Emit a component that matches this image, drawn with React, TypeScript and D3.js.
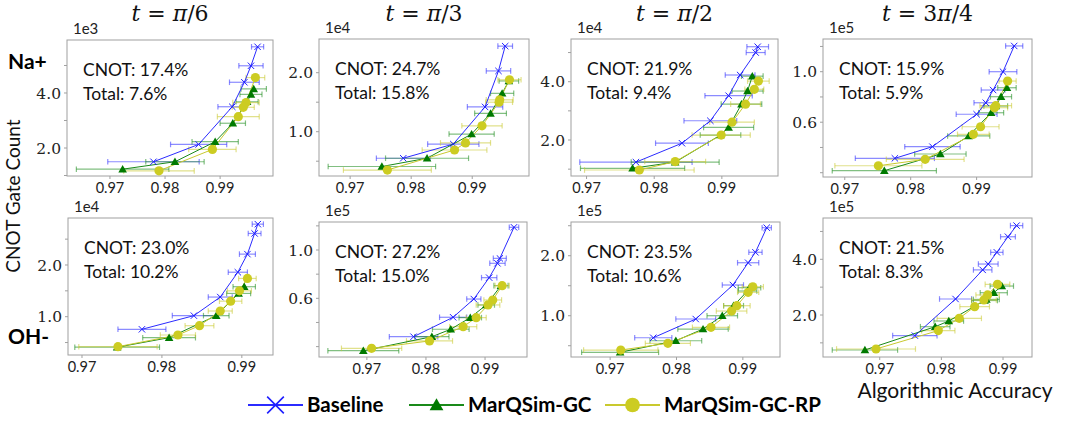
import * as d3 from 'd3';

// [accuracy, gate count (in panel scale units), accuracy error half-width]
const naPi6Baseline = [[0.9968, 5.68, 0.0011], [0.9956, 4.99, 0.0022], [0.9944, 4.39, 0.0027], [0.9922, 3.5, 0.0026], [0.9861, 2.13, 0.0051], [0.9779, 1.5, 0.0083]];
const naPi6GC = [[0.9961, 4.15, 0.0023], [0.9956, 3.95, 0.002], [0.9949, 3.68, 0.002], [0.9923, 2.9, 0.0023], [0.9891, 2.23, 0.0042], [0.9818, 1.5, 0.0053], [0.9723, 1.23, 0.0084]];
const naPi6RP = [[0.9964, 4.56, 0.0017], [0.9947, 3.65, 0.0024], [0.9942, 3.48, 0.002], [0.9933, 3.14, 0.0038], [0.9886, 1.95, 0.0043], [0.9789, 1.17, 0.0064]];

const naPi3Baseline = [[0.9954, 2.45, 0.0012], [0.9943, 2.03, 0.002], [0.9921, 1.42, 0.0029], [0.9869, 0.79, 0.0042], [0.9787, 0.55, 0.0044]];
const naPi3GC = [[0.996, 1.86, 0.0016], [0.9949, 1.65, 0.0019], [0.993, 1.31, 0.0026], [0.9899, 0.96, 0.0037], [0.9826, 0.55, 0.0068], [0.9752, 0.41, 0.0088]];
const naPi3RP = [[0.9961, 1.88, 0.0019], [0.9945, 1.54, 0.0022], [0.9944, 1.5, 0.0022], [0.9916, 1.1, 0.0033], [0.9889, 0.81, 0.0041], [0.9871, 0.69, 0.0053], [0.9761, 0.35, 0.0072]];

const naPi2Baseline = [[0.9953, 5.2, 0.0016], [0.995, 5.0, 0.0014], [0.9927, 4.23, 0.0022], [0.991, 3.52, 0.0035], [0.9883, 2.66, 0.0039], [0.9841, 1.89, 0.0039], [0.9773, 1.24, 0.0083]];
const naPi2GC = [[0.9945, 4.19, 0.0016], [0.9938, 3.68, 0.0023], [0.9929, 3.23, 0.003], [0.991, 2.43, 0.0037], [0.9898, 2.17, 0.003], [0.9831, 1.24, 0.0065], [0.9768, 1.03, 0.0077]];
const naPi2RP = [[0.9954, 4.02, 0.0016], [0.9948, 3.74, 0.0014], [0.9935, 3.23, 0.0022], [0.9915, 2.61, 0.0033], [0.9899, 2.17, 0.0043], [0.9831, 1.26, 0.0045], [0.9778, 0.97, 0.0081]];

const na3Pi4Baseline = [[0.9957, 1.204, 0.0013], [0.994, 1.0, 0.0021], [0.9925, 0.855, 0.0018], [0.9914, 0.754, 0.0018], [0.99, 0.663, 0.0031], [0.9833, 0.406, 0.0042], [0.9776, 0.314, 0.006]];
const na3Pi4GC = [[0.9946, 0.873, 0.0014], [0.9937, 0.802, 0.0016], [0.9929, 0.728, 0.0018], [0.9922, 0.675, 0.0019], [0.9888, 0.491, 0.0032], [0.9845, 0.348, 0.0039], [0.976, 0.216, 0.0079]];
const na3Pi4RP = [[0.9947, 0.926, 0.0013], [0.9929, 0.731, 0.0024], [0.9927, 0.715, 0.002], [0.9906, 0.564, 0.0028], [0.9895, 0.504, 0.0024], [0.9822, 0.306, 0.0059], [0.9751, 0.255, 0.0066]];

const ohPi6Baseline = [[0.992, 2.79, 0.0007], [0.9916, 2.61, 0.0008], [0.9907, 2.21, 0.001], [0.9895, 1.86, 0.0012], [0.9873, 1.38, 0.0015], [0.984, 1.02, 0.0027], [0.9775, 0.756, 0.003]];
const ohPi6GC = [[0.9903, 1.58, 0.0014], [0.9896, 1.45, 0.0015], [0.9868, 1.02, 0.0016], [0.9809, 0.594, 0.0033], [0.9744, 0.41, 0.0053]];
const ohPi6RP = [[0.9907, 1.74, 0.0011], [0.9897, 1.5, 0.0015], [0.9886, 1.3, 0.0014], [0.9873, 1.11, 0.0015], [0.9847, 0.826, 0.0018], [0.982, 0.646, 0.0022], [0.9745, 0.42, 0.0049]];

const ohPi3Baseline = [[0.9949, 1.188, 0.0008], [0.9925, 0.931, 0.0011], [0.9921, 0.89, 0.0013], [0.9907, 0.771, 0.0013], [0.9881, 0.594, 0.0012], [0.9846, 0.443, 0.0023], [0.9779, 0.282, 0.0041]];
const ohPi3GC = [[0.9927, 0.705, 0.0012], [0.9902, 0.545, 0.0014], [0.9875, 0.44, 0.0019], [0.9842, 0.344, 0.0031], [0.981, 0.282, 0.0029], [0.9694, 0.166, 0.006]];
const ohPi3RP = [[0.9929, 0.705, 0.0012], [0.9913, 0.586, 0.0015], [0.9905, 0.545, 0.002], [0.9885, 0.44, 0.0017], [0.9863, 0.365, 0.0023], [0.9806, 0.247, 0.0039], [0.9708, 0.186, 0.0051]];

const ohPi2Baseline = [[0.9936, 2.467, 0.0007], [0.9919, 2.057, 0.001], [0.9908, 1.883, 0.0016], [0.9885, 1.512, 0.0016], [0.9829, 0.945, 0.003], [0.9765, 0.633, 0.0028]];
const ohPi2GC = [[0.991, 1.467, 0.0017], [0.9907, 1.412, 0.0014], [0.9886, 1.167, 0.0015], [0.9869, 1.0, 0.0023], [0.984, 0.778, 0.0038], [0.9799, 0.583, 0.0039], [0.9715, 0.39, 0.0058]];
const ohPi2RP = [[0.9915, 1.483, 0.0016], [0.9908, 1.39, 0.0016], [0.9891, 1.167, 0.002], [0.9883, 1.078, 0.0023], [0.9852, 0.807, 0.0028], [0.9787, 0.54, 0.0034], [0.9716, 0.428, 0.0056]];

const oh3Pi4Baseline = [[0.9922, 5.21, 0.001], [0.9908, 4.81, 0.0012], [0.989, 4.25, 0.001], [0.9876, 3.83, 0.0016], [0.9867, 3.62, 0.0015], [0.9823, 2.575, 0.0026], [0.9757, 1.26, 0.0036]];
const oh3Pi4GC = [[0.9898, 3.04, 0.0019], [0.9885, 2.8, 0.0022], [0.9873, 2.56, 0.0021], [0.987, 2.52, 0.0021], [0.9812, 1.785, 0.0024], [0.979, 1.58, 0.0024], [0.9676, 0.744, 0.0053]];
const oh3Pi4RP = [[0.9891, 3.1, 0.002], [0.9875, 2.72, 0.0019], [0.9869, 2.54, 0.002], [0.9854, 2.3, 0.0024], [0.9829, 1.88, 0.0036], [0.9795, 1.44, 0.0027], [0.9694, 0.78, 0.0064]];

const timeLabels = ['π/6', 'π/3', 'π/2', '3π/4'];
const ionLabels = ['Na+', 'OH-'];
const seriesNames = ['Baseline', 'MarQSim-GC', 'MarQSim-GC-RP'];
const cnotReduction = ['17.4%', '24.7%', '21.9%', '15.9%', '23.0%', '27.2%', '23.5%', '21.5%'];
const totalReduction = ['7.6%', '15.8%', '9.4%', '5.9%', '10.2%', '15.0%', '10.6%', '8.3%'];
const yExponents = ['1e3', '1e4', '1e4', '1e5', '1e4', '1e5', '1e5', '1e5'];
const xTickValues = [0.97, 0.98, 0.99];
const yLabeledTicks = [[2, 4], [1, 2], [2, 4], [0.6, 1.0], [1, 2], [0.6, 1.0], [1, 2], [2, 4]];
const yMinorTicks = [[1, 3, 5], [0.5, 1.5], [1, 3, 5], [0.2, 0.4, 0.8, 1.2], [0.5, 1.5, 2.5], [0.2, 0.4, 0.8, 1.2], [0.5, 1.5, 2.5], [1, 3, 5]];
const xDomains = [[0.9622, 0.9996], [0.9649, 0.9993], [0.9677, 0.9983], [0.9667, 0.9984], [0.96825, 0.9939], [0.9619, 0.9971], [0.9641, 0.9956], [0.9608, 0.9947]];
const yDomains = [[0.982, 5.927], [0.249, 2.571], [0.765, 5.465], [0.166, 1.259], [0.259, 2.909], [0.114, 1.232], [0.312, 2.562], [0.492, 5.483]];

const panelSeries = [
  [naPi6Baseline, naPi6GC, naPi6RP],
  [naPi3Baseline, naPi3GC, naPi3RP],
  [naPi2Baseline, naPi2GC, naPi2RP],
  [na3Pi4Baseline, na3Pi4GC, na3Pi4RP],
  [ohPi6Baseline, ohPi6GC, ohPi6RP],
  [ohPi3Baseline, ohPi3GC, ohPi3RP],
  [ohPi2Baseline, ohPi2GC, ohPi2RP],
  [oh3Pi4Baseline, oh3Pi4GC, oh3Pi4RP],
];

// panel frames [left, top, right, bottom]
const boxes = [
  [67, 40, 273, 176], [319, 39, 529, 176], [571, 39, 778, 176], [823, 39, 1032, 177],
  [68, 218, 273, 355], [319, 222, 527, 357], [571, 222, 780, 357], [823, 218, 1032, 357],
];

const lineColors = ['#2b2bff', '#1a8a1a', '#c9c92e'];
const markColors = ['#1f1fff', '#007a00', '#cccc22'];
const sans = 'Lato, "Open Sans", sans-serif';
const serif = '"DejaVu Serif", serif';

function Marker({ kind, x, y, scale = 1 }: { kind: number; x: number; y: number; scale?: number }) {
  if (kind === 0) {
    const s = 3.2 * scale;
    return (
      <path d={`M${x - s},${y - s}L${x + s},${y + s}M${x - s},${y + s}L${x + s},${y - s}`} stroke={markColors[0]} strokeWidth={scale > 1 ? 1.6 : 1} fill="none" />
    );
  }
  if (kind === 1) {
    return <path d={d3.symbol(d3.symbolTriangle, 32 * scale * scale)()!} transform={`translate(${x},${y + 0.8 * scale})`} fill={markColors[1]} />;
  }
  return <circle cx={x} cy={y} r={4.6 * scale} fill={markColors[2]} />;
}

function Panel({ i }: { i: number }) {
  const [l, t, r, b] = boxes[i];
  const x = d3.scaleLinear().domain(xDomains[i]).range([l, r]);
  const y = d3.scaleLinear().domain(yDomains[i]).range([b, t]);
  const line = d3.line<number[]>().x((d) => x(d[0])).y((d) => y(d[1]));
  const series = panelSeries[i];
  return (
    <g>
      <defs>
        <clipPath id={`clip${i}`}>
          <rect x={l} y={t} width={r - l} height={b - t} />
        </clipPath>
      </defs>
      <rect x={l} y={t} width={r - l} height={b - t} fill="#fff" stroke="#a0a0a0" strokeWidth={1} />
      {[...yLabeledTicks[i], ...yMinorTicks[i]].map((v) => (
        <line key={`yt${v}`} x1={l - 3} x2={l} y1={y(v)} y2={y(v)} stroke="#a0a0a0" />
      ))}
      {yLabeledTicks[i].map((v) => (
        <text key={`yl${v}`} x={l - 6} y={y(v)} dy="0.36em" textAnchor="end" fontFamily={serif} fontSize={15.5} fill="#222">
          {v.toFixed(1)}
        </text>
      ))}
      {xTickValues.map((v) => (
        <g key={`xt${v}`}>
          <line x1={x(v)} x2={x(v)} y1={b} y2={b + 3} stroke="#a0a0a0" />
          <text x={x(v)} y={b + 17} textAnchor="middle" fontFamily={sans} fontSize={14.5} fill="#222">
            {v.toFixed(2)}
          </text>
        </g>
      ))}
      <text x={l + 6} y={t - 6} fontFamily={sans} fontSize={15} fill="#222">{yExponents[i]}</text>
      <g clipPath={`url(#clip${i})`}>
        {series.map((s, k) => (
          <g key={`e${k}`} stroke={lineColors[k]} strokeOpacity={0.55} strokeWidth={1.2}>
            {s.map((d, j) => (
              <g key={j}>
                <line x1={x(d[0] - d[2])} x2={x(d[0] + d[2])} y1={y(d[1])} y2={y(d[1])} />
                <line x1={x(d[0] - d[2])} x2={x(d[0] - d[2])} y1={y(d[1]) - 2.8} y2={y(d[1]) + 2.8} />
                <line x1={x(d[0] + d[2])} x2={x(d[0] + d[2])} y1={y(d[1]) - 2.8} y2={y(d[1]) + 2.8} />
              </g>
            ))}
          </g>
        ))}
        {series.map((s, k) => (
          <path key={`l${k}`} d={line(s)!} fill="none" stroke={lineColors[k]} strokeWidth={1} />
        ))}
        {series.map((s, k) => (
          <g key={`m${k}`}>
            {s.map((d, j) => (
              <Marker key={j} kind={k} x={x(d[0])} y={y(d[1])} />
            ))}
          </g>
        ))}
      </g>
      <text x={l + 16} y={t + 36} fontFamily={sans} fontSize={17.5} fill="#111">CNOT: {cnotReduction[i]}</text>
      <text x={l + 16} y={t + 60} fontFamily={sans} fontSize={17.5} fill="#111">Total: {totalReduction[i]}</text>
    </g>
  );
}

function Title({ label, cx }: { label: string; cx: number }) {
  const parts = label.match(/^(\d*)π\/(\d)$/)!;
  return (
    <text x={cx} y={21} textAnchor="middle" fontFamily={serif} fontSize={22} fill="#111">
      <tspan fontStyle="italic">t</tspan>
      {` = ${parts[1]}`}
      <tspan fontStyle="italic">π</tspan>
      {`/${parts[2]}`}
    </text>
  );
}

export default function App() {
  const legendX = [248, 409, 605];
  return (
    <svg width={1077} height={423} style={{ position: 'absolute', left: 0, top: 0, background: '#fff' }}>
      <rect width={1077} height={423} fill="#fff" />
      {timeLabels.map((lab, c) => (
        <Title key={lab} label={lab} cx={(boxes[c][0] + boxes[c][2]) / 2} />
      ))}
      {boxes.map((_, i) => (
        <Panel key={i} i={i} />
      ))}
      <text x={8} y={69} fontFamily={sans} fontWeight={700} fontSize={21} fill="#000">{ionLabels[0]}</text>
      <text x={8} y={344} fontFamily={sans} fontWeight={700} fontSize={21} fill="#000">{ionLabels[1]}</text>
      <text transform="translate(20,196) rotate(-90)" textAnchor="middle" fontFamily={sans} fontSize={19} fill="#111">CNOT Gate Count</text>
      <text x={955} y={398} textAnchor="middle" fontFamily={sans} fontSize={21} fill="#111">Algorithmic Accuracy</text>
      {seriesNames.map((name, k) => (
        <g key={name}>
          <line x1={legendX[k]} x2={legendX[k] + 55} y1={405} y2={405} stroke={lineColors[k]} strokeWidth={2} />
          <Marker kind={k} x={legendX[k] + 27.5} y={405} scale={k === 0 ? 2.6 : 1.6} />
          <text x={legendX[k] + 59} y={405} dy="0.35em" fontFamily={sans} fontWeight={700} fontSize={20.5} fill="#000">{name}</text>
        </g>
      ))}
    </svg>
  );
}
